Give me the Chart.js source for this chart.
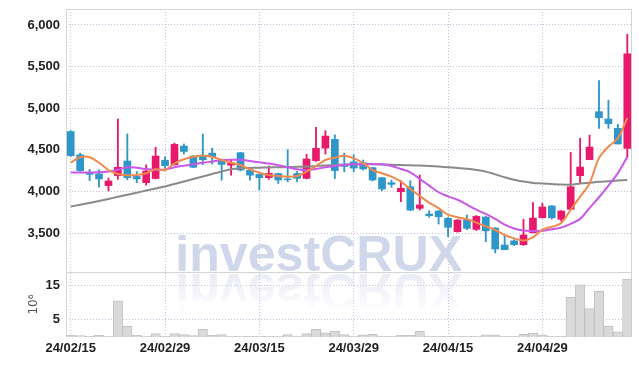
<!DOCTYPE html>
<html><head><meta charset="utf-8">
<script src="https://cdn.jsdelivr.net/npm/chart.js@4.4.1/dist/chart.umd.min.js"></script>
<style>html,body{margin:0;padding:0;background:#fff}canvas{display:block}</style>
</head><body>
<canvas id="c" width="639" height="366"></canvas>
<script>
const dates = ['24/02/15','24/02/16','24/02/19','24/02/20','24/02/21','24/02/22','24/02/23','24/02/26','24/02/27','24/02/28',
  '24/02/29','24/03/04','24/03/05','24/03/06','24/03/07','24/03/08','24/03/11','24/03/12','24/03/13','24/03/14',
  '24/03/15','24/03/18','24/03/19','24/03/20','24/03/21','24/03/22','24/03/25','24/03/26','24/03/27','24/03/28',
  '24/03/29','24/04/01','24/04/02','24/04/03','24/04/04','24/04/05','24/04/08','24/04/09','24/04/11','24/04/12',
  '24/04/15','24/04/16','24/04/17','24/04/18','24/04/19','24/04/22','24/04/23','24/04/24','24/04/25','24/04/26',
  '24/04/29','24/04/30','24/05/02','24/05/03','24/05/07','24/05/08','24/05/09','24/05/10','24/05/13','24/05/14'];
const openP  = [4720,4440,4225,4210,4070,4190,4365,4180,4105,4155,4375,4320,4545,4425,4435,4460,4385,4315,4465,4255,
  4205,4165,4215,4150,4215,4157,4370,4520,4625,4325,4355,4345,4285,4165,4105,3996,4056,3797,3728,3764,
  3677,3516,3660,3544,3692,3560,3356,3406,3360,3504,3684,3825,3665,3785,4189,4382,4958,4870,4758,4518];
const highP  = [4730,4460,4265,4260,4160,4870,4690,4240,4320,4530,4415,4580,4570,4430,4690,4520,4390,4375,4470,4260,
  4210,4305,4220,4500,4240,4445,4770,4730,4680,4460,4440,4377,4290,4170,4137,4129,4129,4197,3768,3770,
  3690,3660,3716,3710,3700,3565,3472,3420,3665,3866,3860,3830,3770,4468,4638,4676,5331,5095,4806,5888];
const lowP   = [4420,4240,4130,4050,4005,4145,4140,4105,4075,4150,4280,4315,4450,4285,4320,4330,4135,4195,4245,4135,
  4015,4145,4095,4115,4115,4150,4360,4450,4155,4235,4235,4257,4125,4008,4049,3876,3770,3776,3689,3608,
  3456,3510,3540,3530,3395,3260,3300,3350,3350,3500,3680,3668,3645,3780,4097,4380,4758,4758,4570,4405];
const closeP = [4430,4250,4205,4150,4125,4290,4165,4150,4245,4425,4310,4565,4480,4290,4380,4415,4325,4340,4257,4195,
  4165,4218,4137,4140,4157,4390,4518,4665,4250,4300,4280,4270,4137,4029,4085,4037,3776,3837,3708,3696,
  3568,3656,3556,3700,3526,3308,3300,3360,3476,3680,3812,3683,3764,4056,4293,4533,4886,4814,4570,5652];
const ma5  = [4345,4410,4410,4345,4257,4209,4193,4197,4218,4265,4257,4338,4386,4417,4429,4417,4377,4345,4317,4265,
  4225,4197,4185,4177,4185,4237,4305,4377,4405,4430,4400,4340,4257,4218,4177,4117,4030,3945,3865,3800,
  3720,3690,3665,3625,3580,3536,3476,3436,3410,3448,3540,3575,3620,3780,3937,4097,4400,4537,4638,4880];
const ma20 = [4227,4228,4228,4230,4240,4260,4290,4285,4268,4260,4262,4290,4310,4326,4345,4360,4375,4380,4380,4365,
  4350,4335,4315,4290,4265,4255,4270,4290,4305,4318,4326,4328,4328,4325,4305,4270,4230,4150,4070,3990,
  3940,3900,3840,3780,3730,3670,3600,3555,3530,3525,3527,3545,3565,3610,3670,3800,3930,4070,4220,4415];
const ma60 = [3818,3840,3862,3885,3910,3935,3960,3985,4010,4035,4060,4090,4120,4150,4180,4210,4240,4265,4278,4282,
  4285,4288,4290,4292,4295,4298,4305,4312,4318,4322,4325,4326,4326,4324,4320,4316,4313,4310,4305,4298,
  4290,4282,4272,4258,4238,4205,4170,4140,4118,4102,4095,4088,4082,4082,4095,4105,4115,4122,4130,4138];
const volume = [0.5,0.4,0.2,0.5,0.2,10.5,3.1,0.5,0.3,1.0,0.2,1.0,0.7,0.4,2.2,0.5,0.7,0.2,0.2,0.2,
  0.2,0.2,0.2,0.7,0.2,1.0,2.2,1.2,1.7,0.7,0.3,0.6,0.8,0.3,0.2,0.5,0.5,1.7,0.3,0.2,
  0.2,0.2,0.2,0.2,0.6,0.6,0.2,0.2,0.8,1.1,0.6,0.3,0.1,11.5,15.1,8.2,13.2,3.1,1.5,16.8];
const priceTicks = [3500,4000,4500,5000,5500,6000];
const volTicks = [5,10,15];
const watermark = 'investCRUX';

const UP = '#e8196b', DOWN = '#2f96c9';
const candleColors = closeP.map((c,i)=> c >= openP[i] ? UP : DOWN);
const FONT = '"Liberation Sans",Arial,sans-serif';
const GRID = 'rgba(165,168,205,0.75)';
const tickFont = {family:FONT, size:13, weight:'bold'};

const decor = {
  id:'decor',
  beforeDatasetsDraw(chart){
    const {ctx, chartArea:a} = chart;
    const ys = chart.scales.y, vs = chart.scales.yv;
    ctx.save();
    ctx.font = 'bold 50px "Liberation Sans", Arial, sans-serif';
    const w = ctx.measureText(watermark).width;
    const sx = (a.right - a.left) * 0.507 / w;
    const x0 = a.left + (a.right - a.left) * 0.193;
    const base = ys.bottom - 1;
    ctx.translate(x0, base);
    ctx.scale(sx, 1);
    ctx.fillStyle = 'rgba(207,213,233,0.95)';
    ctx.fillText(watermark, 0, 0);
    ctx.translate(0, 3);
    ctx.scale(1, -1);
    const g = ctx.createLinearGradient(0, 0, 0, -40);
    g.addColorStop(0, 'rgba(220,223,238,0.6)');
    g.addColorStop(1, 'rgba(220,223,238,0.0)');
    ctx.fillStyle = g;
    ctx.fillText(watermark, 0, 0);
    ctx.restore();
    ctx.save();
    ctx.strokeStyle = '#d6d6d6';
    ctx.lineWidth = 1;
    ctx.strokeRect(a.left + 0.5, ys.top + 0.5, a.right - a.left - 1, ys.bottom - ys.top);
    ctx.strokeRect(a.left + 0.5, vs.top + 0.5, a.right - a.left - 1, vs.bottom - vs.top - 1);
    ctx.restore();
  }
};

new Chart(document.getElementById('c'), {
  type:'bar',
  data:{
    labels: dates,
    datasets:[
      {type:'line', label:'MA5', data:ma5, yAxisID:'y', borderColor:'#ef8a4c', borderWidth:2, pointRadius:0, tension:0.35, order:0},
      {type:'line', label:'MA20', data:ma20, yAxisID:'y', borderColor:'#c957ea', borderWidth:2, pointRadius:0, tension:0.35, order:0},
      {type:'line', label:'MA60', data:ma60, yAxisID:'y', borderColor:'#8a8a8a', borderWidth:2, pointRadius:0, tension:0.35, order:0},
      {label:'body', data: openP.map((o,i)=>[o, closeP[i]]), yAxisID:'y', backgroundColor:candleColors, borderWidth:0, barThickness:7, grouped:false, order:1},
      {label:'wick', data: lowP.map((l,i)=>[l, highP[i]]), yAxisID:'y', backgroundColor:candleColors, borderWidth:0, barThickness:1.2, grouped:false, order:2},
      {label:'volume', data: volume, yAxisID:'yv', backgroundColor:'#d9d9d9', borderColor:'#c2c2c2', borderWidth:1, categoryPercentage:1, barPercentage:1, grouped:false, order:3}
    ]
  },
  options:{
    responsive:false, animation:false,
    layout:{padding:{left:0, right:7, top:9, bottom:9}},
    plugins:{legend:{display:false}, tooltip:{enabled:false}},
    scales:{
      x:{
        type:'category', offset:true,
        afterFit:s=>{ s.height = 20; s.paddingLeft = 0; s.paddingRight = 0; },
        grid:{offset:false, color:GRID, drawTicks:false, lineWidth:1},
        border:{display:false, dash:[1,2]},
        ticks:{autoSkip:false, maxRotation:0, padding:4, color:'#222', font:tickFont,
          callback:(v,i)=> i % 10 === 0 ? dates[i] : null}
      },
      yv:{
        type:'linear', position:'left', stack:'panels', stackWeight:1, min:0, max:18.8,
        afterBuildTicks:s=>{ s.ticks = volTicks.map(v=>({value:v})); },
        afterFit:s=>{ s.width = 66; s.paddingTop = 0; s.paddingBottom = 0; },
        grid:{color:GRID, drawTicks:false},
        border:{display:false, dash:[1,2]},
        title:{display:true, text:'10⁶', color:'#555', font:{family:'"DejaVu Sans",sans-serif', size:12}, padding:{top:27, bottom:0}},
        ticks:{padding:6, color:'#222', font:tickFont}
      },
      y:{
        type:'linear', position:'left', stack:'panels', stackWeight:4.05, min:3031, max:6192,
        afterBuildTicks:s=>{ s.ticks = priceTicks.map(v=>({value:v})); },
        afterFit:s=>{ s.width = 66; s.paddingTop = 0; s.paddingBottom = 0; },
        grid:{color:GRID, drawTicks:false},
        border:{display:false, dash:[1,2]},
        ticks:{padding:6, color:'#222', font:tickFont,
          callback:v=> v.toLocaleString('en-US')}
      }
    }
  },
  plugins:[decor]
});
</script>
</body></html>
